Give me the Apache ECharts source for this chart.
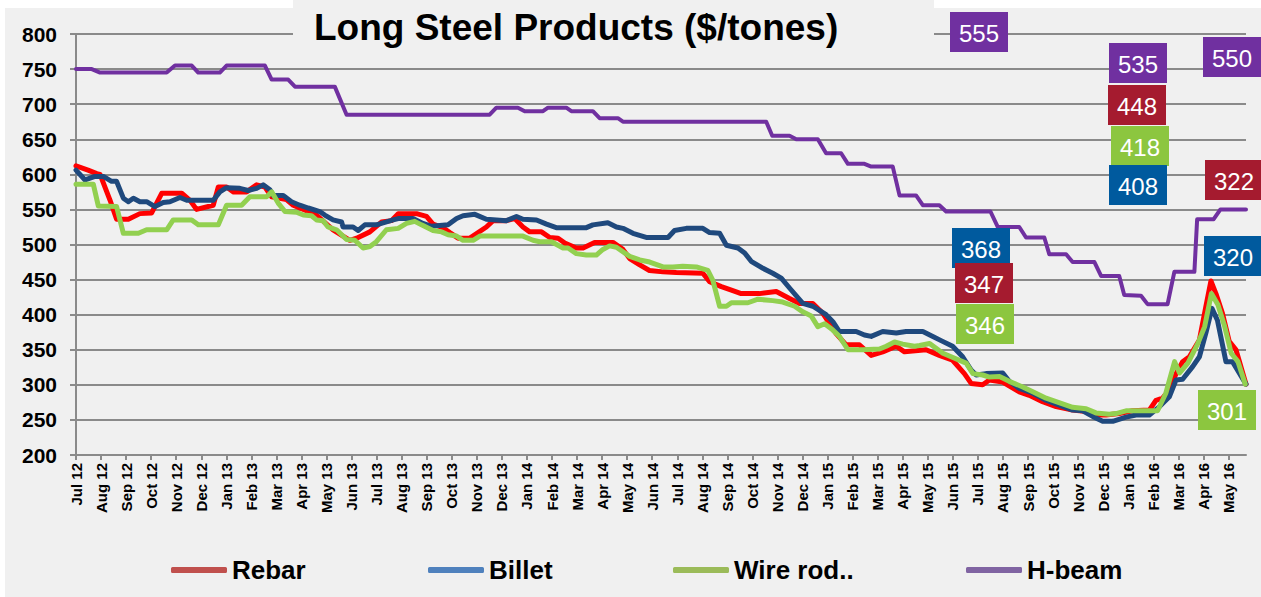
<!DOCTYPE html>
<html>
<head>
<meta charset="utf-8">
<script src="https://cdn.jsdelivr.net/npm/echarts@6/dist/echarts.min.js"></script>
<style>
  html, body { margin: 0; padding: 0; background: #ffffff; }
  #chart { width: 1261px; height: 597px; }
</style>
</head>
<body>
<div id="chart"></div>
<script>
// ---------------- DATA ----------------
const monthLabels = [
  'Jul 12','Aug 12','Sep 12','Oct 12','Nov 12','Dec 12',
  'Jan 13','Feb 13','Mar 13','Apr 13','May 13','Jun 13','Jul 13','Aug 13','Sep 13','Oct 13','Nov 13','Dec 13',
  'Jan 14','Feb 14','Mar 14','Apr 14','May 14','Jun 14','Jul 14','Aug 14','Sep 14','Oct 14','Nov 14','Dec 14',
  'Jan 15','Feb 15','Mar 15','Apr 15','May 15','Jun 15','Jul 15','Aug 15','Sep 15','Oct 15','Nov 15','Dec 15',
  'Jan 16','Feb 16','Mar 16','Apr 16','May 16'
];
const yTicks = [200, 800, 50]; // min, max, step

// [month position (0 = Jul 12), $/tonne]
const rebar = [
  [0,612],[0.48,606],[0.83,601],[0.96,600],[1.36,563],[1.62,536],[2.09,536],[2.55,544],[3.02,545],[3.42,573],
  [4.22,573],[4.55,563],[4.81,550],[5.48,556],[5.68,582],[6.01,582],[6.27,575],[6.81,575],[7.21,585],[7.54,582],
  [7.81,568],[8.40,564],[8.67,556],[9.60,542],[10.26,521],[10.93,506],[11.20,509],[11.73,518],[12.19,532],[12.59,534],
  [12.86,544],[13.59,544],[13.99,540],[14.25,529],[14.65,524],[14.92,517],[15.25,509],[15.72,509],[16.38,525],[16.65,534],
  [17.18,534],[17.51,537],[17.84,525],[18.11,518],[18.58,518],[18.91,510],[19.24,509],[19.51,502],[19.97,495],[20.24,495],
  [20.70,503],[21.43,503],[21.83,493],[22.10,480],[22.50,471],[22.89,463],[23.43,461],[23.96,460],[25.02,459],[25.29,447],
  [25.76,440],[26.16,435],[26.55,430],[27.28,430],[27.95,433],[28.48,423],[28.88,416],[29.41,416],[29.81,402],[30.34,373],
  [30.74,357],[31.27,357],[31.74,342],[32.20,347],[32.74,355],[33.07,347],[33.93,350],[34.46,342],[34.99,335],[35.46,316],
  [35.73,302],[36.19,300],[36.46,307],[36.99,304],[37.65,290],[38.05,285],[38.58,276],[39.12,269],[39.78,264],[40.32,262],
  [40.71,257],[41.11,257],[41.64,259],[42.17,263],[42.84,264],[43.11,278],[43.37,281],[43.64,293],[43.91,316],[44.17,333],
  [44.44,340],[44.84,364],[45.10,412],[45.30,448],[45.50,430],[45.76,402],[46.03,362],[46.30,350],[46.70,301]
];
const billet = [
  [0,606],[0.36,592],[0.76,597],[1.09,597],[1.42,590],[1.62,590],[1.89,566],[2.09,561],[2.29,566],[2.55,561],
  [2.82,561],[3.15,554],[3.48,560],[3.75,561],[4.15,567],[4.42,563],[5.48,563],[5.74,575],[6.01,581],[6.54,580],
  [6.87,577],[7.21,580],[7.47,585],[7.74,578],[7.87,570],[8.27,570],[8.60,561],[8.93,556],[9.27,552],[9.73,547],
  [9.93,542],[10.26,535],[10.60,532],[10.66,525],[11.06,525],[11.26,520],[11.53,528],[11.99,528],[12.66,535],[12.86,537],
  [13.45,537],[13.85,530],[14.19,526],[14.85,528],[15.19,537],[15.45,541],[15.92,543],[16.38,536],[17.18,534],[17.58,540],
  [17.84,536],[18.38,535],[18.78,529],[19.17,524],[20.37,524],[20.63,528],[21.23,531],[21.57,525],[21.83,523],[22.23,516],
  [22.76,510],[23.63,510],[23.89,520],[24.36,523],[25.02,523],[25.29,517],[25.69,516],[25.96,499],[26.42,495],[26.69,488],
  [26.95,476],[27.42,466],[27.81,459],[28.15,452],[28.48,438],[29.01,416],[29.41,412],[29.94,400],[30.21,390],[30.47,376],
  [31.14,376],[31.47,371],[31.74,369],[32.20,376],[32.74,374],[33.13,376],[33.80,376],[34.20,369],[34.53,363],[34.99,355],
  [35.39,340],[35.73,321],[35.93,314],[36.32,316],[36.99,317],[37.25,305],[37.65,295],[38.19,288],[38.72,278],[39.25,271],
  [39.78,264],[40.18,263],[40.58,255],[40.98,248],[41.38,248],[41.91,254],[42.31,257],[42.84,257],[43.25,269],[43.64,283],
  [43.91,307],[44.17,308],[44.57,326],[44.84,340],[45.10,374],[45.34,409],[45.56,392],[45.90,333],[46.16,333],[46.70,301]
];
const wireRod = [
  [0,586],[0.69,586],[0.89,555],[1.62,554],[1.89,516],[2.49,516],[2.82,521],[3.62,521],[3.88,535],[4.62,535],
  [4.88,528],[5.68,528],[6.01,556],[6.61,556],[6.94,568],[7.61,568],[7.81,575],[8.07,559],[8.34,547],[8.80,546],
  [9.07,542],[9.40,541],[9.60,535],[9.86,534],[10.06,525],[10.40,521],[10.80,507],[11.13,506],[11.46,495],[11.73,497],
  [11.99,504],[12.39,521],[12.86,523],[13.19,530],[13.52,533],[13.79,528],[14.25,520],[14.59,518],[14.85,514],[15.19,512],
  [15.45,506],[15.85,506],[16.12,512],[17.84,512],[18.24,506],[18.51,504],[18.98,504],[19.44,495],[19.64,495],[19.97,487],
  [20.37,485],[20.77,485],[21.03,493],[21.30,498],[21.57,496],[22.10,483],[22.50,478],[22.90,475],[23.43,468],[23.83,468],
  [24.22,469],[24.76,468],[25.22,463],[25.42,449],[25.69,412],[25.96,412],[26.16,417],[26.82,417],[27.22,422],[27.81,420],
  [28.21,418],[28.68,412],[29.01,404],[29.35,398],[29.61,383],[29.88,387],[30.21,378],[30.47,369],[30.81,350],[31.40,350],
  [32.07,351],[32.34,355],[32.67,361],[33.00,358],[33.47,355],[33.67,356],[34.07,359],[34.33,352],[34.60,345],[34.86,341],
  [35.53,331],[35.80,316],[36.19,314],[36.46,311],[36.86,312],[37.25,305],[37.79,297],[38.19,290],[38.72,281],[39.38,273],
  [39.78,268],[40.32,266],[40.71,260],[41.24,258],[41.51,259],[41.91,263],[43.17,263],[43.50,288],[43.85,333],[44.05,317],
  [44.38,331],[44.78,359],[45.05,383],[45.32,430],[45.58,414],[45.85,383],[46.11,345],[46.38,333],[46.67,301]
];
const hBeam = [
  [0,750],[0.63,750],[0.96,745],[3.62,745],[3.95,755],[4.62,755],[4.88,745],[5.74,745],[6.01,755],[7.54,755],
  [7.81,735],[8.47,735],[8.74,725],[10.33,725],[10.80,685],[16.51,685],[16.78,695],[17.64,695],[17.91,690],[18.64,690],
  [18.84,695],[19.57,695],[19.77,690],[20.63,690],[20.90,680],[21.63,680],[21.83,675],[27.55,675],[27.79,655],[28.48,655],
  [28.75,650],[29.61,650],[29.94,630],[30.54,630],[30.81,615],[31.47,615],[31.74,611],[32.60,611],[32.87,570],[33.53,570],
  [33.80,556],[34.46,556],[34.73,547],[36.50,547],[36.79,525],[37.65,525],[37.92,510],[38.65,510],[38.85,486],[39.52,486],
  [39.78,475],[40.65,475],[40.92,455],[41.64,455],[41.84,428],[42.51,427],[42.77,415],[43.57,415],[43.84,461],[44.64,461],
  [44.75,536],[45.41,536],[45.68,550],[46.70,550]
];
const seriesNames = ['Rebar', 'Billet', 'Wire rod..', 'H-beam'];
const calloutValues = ['555', '535', '448', '418', '408', '550', '322', '320', '368', '347', '346', '301'];
const calloutSeries = [3, 3, 0, 2, 1, 3, 0, 1, 1, 0, 2, 2];

// ---------------- STYLE / LAYOUT ----------------
const lineColors = ['#ff0000', '#1f497d', '#92d050', '#7030a0'];
const legendColors = ['#c0504d', '#4f81bd', '#9bbb59', '#8064a2'];
const calloutColors = ['#a51b2f', '#005a9e', '#8cc63f', '#7030a0'];
const lineWidths = [5, 5, 5, 4];
const legendLeft = [171, 428, 673, 966];
// callout box centres (px)
const calloutPos = [
  [979, 32], [1138, 63], [1137, 105], [1140, 146], [1138, 185], [1232, 57],
  [1234, 180], [1233, 256], [981, 248], [984, 283], [985, 324], [1227, 410]
];
const gridColor = '#8a8a8a';
const FONT = '"Liberation Sans", Arial, sans-serif';

const tickValues = monthLabels.map((_, i) => i);
const seriesData = [rebar, billet, wireRod, hBeam];

const chart = echarts.init(document.getElementById('chart'), null, { renderer: 'svg' });

const graphics = [
  { type: 'rect', shape: { x: 0, y: 0, width: 293, height: 8 }, style: { fill: '#ffffff' }, z: 50, silent: true },
  { type: 'rect', shape: { x: 934, y: 0, width: 327, height: 8 }, style: { fill: '#ffffff' }, z: 50, silent: true },
  { type: 'rect', shape: { x: 0, y: 0, width: 5, height: 597 }, style: { fill: '#ffffff' }, z: 50, silent: true },
  { type: 'rect', shape: { x: 293, y: 0, width: 641, height: 52 }, style: { fill: '#f0f0f0' }, z: 50, silent: true },
  { type: 'text', x: 314, y: 27, z: 51, silent: true,
    style: { text: 'Long Steel Products ($/tones)', fill: '#000', font: 'bold 37px ' + FONT,
             textAlign: 'left', textVerticalAlign: 'middle' } }
];
calloutValues.forEach((v, i) => {
  const [cx, cy] = calloutPos[i];
  graphics.push({ type: 'rect', shape: { x: cx - 29, y: cy - 20, width: 58, height: 40 },
    style: { fill: calloutColors[calloutSeries[i]] }, z: 60, silent: true });
  graphics.push({ type: 'text', x: cx, y: cy + 1, z: 61, silent: true,
    style: { text: v, fill: '#ffffff', font: '24px ' + FONT, textAlign: 'center', textVerticalAlign: 'middle' } });
});

const legends = seriesNames.map((name, i) => ({
  left: legendLeft[i], top: 557, padding: 0,
  icon: 'roundRect', itemWidth: 56, itemHeight: 6, itemGap: 0,
  textStyle: { fontSize: 26, fontWeight: 'bold', color: '#000', fontFamily: FONT, padding: [0, 0, 0, 0] },
  data: [{ name: name, itemStyle: { color: legendColors[i] } }],
  selectedMode: false
}));

chart.setOption({
  animation: false,
  backgroundColor: '#f0f0f0',
  textStyle: { fontFamily: FONT },
  grid: { left: 76, top: 34, right: 15, bottom: 142, containLabel: false },
  legend: legends,
  graphic: graphics,
  xAxis: {
    type: 'value', min: 0, max: 46.7, interval: 1,
    axisLine: { show: true, onZero: false, lineStyle: { color: gridColor, width: 2 } },
    axisTick: { show: true, length: 5, lineStyle: { color: gridColor, width: 2 }, customValues: tickValues },
    axisLabel: {
      rotate: 90, margin: 8, fontSize: 15, fontWeight: 'bold', color: '#000', fontFamily: FONT,
      customValues: tickValues,
      formatter: (v) => { const i = Math.round(v); return Math.abs(v - i) < 1e-6 && monthLabels[i] ? monthLabels[i] : ''; }
    },
    splitLine: { show: false }
  },
  yAxis: {
    type: 'value', min: yTicks[0], max: yTicks[1], interval: yTicks[2],
    axisLine: { show: true, lineStyle: { color: gridColor, width: 2 } },
    axisTick: { show: true, length: 6, lineStyle: { color: gridColor, width: 2 } },
    axisLabel: { margin: 19, fontSize: 21, fontWeight: 'bold', color: '#000', fontFamily: FONT },
    splitLine: { show: true, lineStyle: { color: gridColor, width: 2 } }
  },
  series: seriesNames.map((name, i) => ({
    name: name, type: 'line', data: seriesData[i], showSymbol: false, symbol: 'none',
    lineStyle: { color: lineColors[i], width: lineWidths[i], join: 'round', cap: 'round' },
    itemStyle: { color: lineColors[i] },
    z: 2 + i
  }))
});
</script>
</body>
</html>
